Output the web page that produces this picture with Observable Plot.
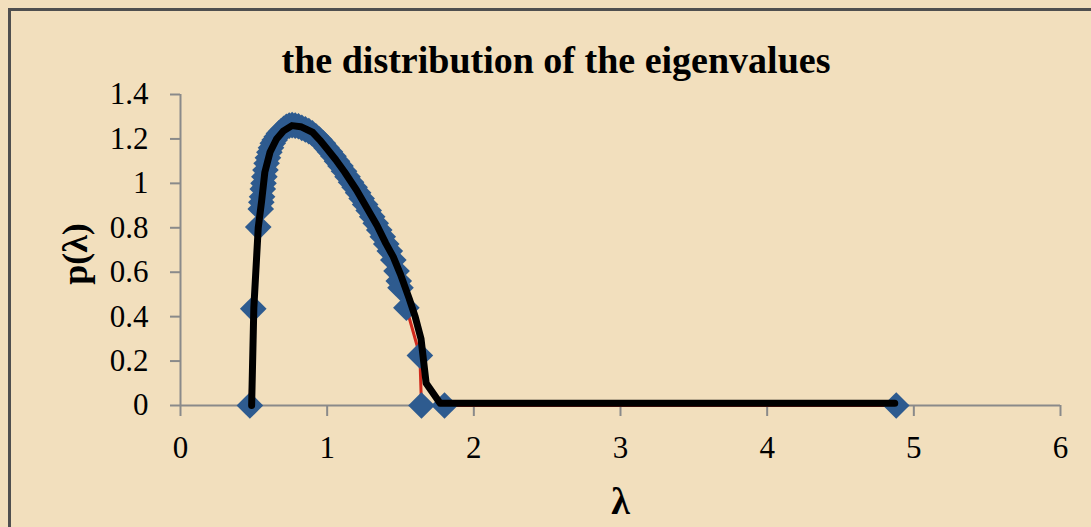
<!DOCTYPE html>
<html><head><meta charset="utf-8">
<script src="https://cdn.jsdelivr.net/npm/d3@7"></script>
<script src="https://cdn.jsdelivr.net/npm/@observablehq/plot@0.6"></script>
<style>
html,body{margin:0;padding:0;background:#f2dfbd;}
#wrap{position:relative;width:1091px;height:527px;overflow:hidden;background:#f2dfbd;}
#frame{position:absolute;left:8px;top:8px;width:1200px;height:600px;border-left:3px solid #4f4f4f;border-top:3px solid #4f4f4f;}
#title{position:absolute;left:9px;width:1094px;top:38px;line-height:normal;text-align:center;font:bold 38px "Liberation Serif",serif;color:#000;}
#chart{position:absolute;left:0;top:0;}
</style></head><body>
<div id="wrap"><div id="frame"></div><div id="chart"></div><div id="title"></div></div>
<script>
const titleText = "the distribution of the eigenvalues";
const xLabel = "λ";
const yLabel = "p(λ)";
const xTicks = [0, 1, 2, 3, 4, 5, 6];
const yTicks = [0, 0.2, 0.4, 0.6, 0.8, 1, 1.2, 1.4];

// empirical histogram points (blue diamonds, joined by the red line)
const lambdaEmp = [0.473, 0.496, 0.530, 0.547, 0.551, 0.556, 0.561, 0.566, 0.572, 0.579,
  0.587, 0.596, 0.606, 0.617, 0.629, 0.642, 0.656, 0.671, 0.687, 0.704,
  0.722, 0.741, 0.761, 0.782, 0.804, 0.827, 0.851, 0.875, 0.899, 0.923,
  0.947, 0.971, 0.995, 1.019, 1.043, 1.067, 1.091, 1.115, 1.139, 1.163,
  1.187, 1.211, 1.235, 1.259, 1.283, 1.307, 1.331, 1.355, 1.379, 1.403,
  1.427, 1.451, 1.473, 1.488, 1.500, 1.540, 1.632, 1.643, 1.800, 4.880];
const pEmp = [0, 0.435, 0.803, 0.885, 0.915, 0.94, 0.975, 1.0, 1.03, 1.06,
  1.09, 1.115, 1.14, 1.16, 1.18, 1.195, 1.21, 1.225, 1.235, 1.245,
  1.255, 1.26, 1.262, 1.26, 1.257, 1.25, 1.243, 1.235, 1.225, 1.212,
  1.197, 1.18, 1.16, 1.142, 1.122, 1.10, 1.078, 1.055, 1.03, 1.005,
  0.982, 0.958, 0.932, 0.905, 0.878, 0.85, 0.82, 0.79, 0.76, 0.727,
  0.695, 0.655, 0.605, 0.56, 0.53, 0.44, 0.225, 0, 0, 0];

// fitted density (black line)
const lambdaFit = [0.485, 0.50, 0.53, 0.553, 0.575, 0.61, 0.655, 0.70, 0.76, 0.82,
  0.90, 0.95, 1.00, 1.06, 1.12, 1.20, 1.27, 1.34, 1.40, 1.45,
  1.50, 1.56, 1.60, 1.64, 1.675, 1.77, 4.87];
const pFit = [0, 0.44, 0.80, 0.92, 1.05, 1.14, 1.20, 1.235, 1.26, 1.255,
  1.23, 1.195, 1.155, 1.105, 1.05, 0.97, 0.89, 0.81, 0.73, 0.67,
  0.59, 0.48, 0.40, 0.30, 0.10, 0.01, 0.01];

const emp = lambdaEmp.map((x, i) => ({x, y: pEmp[i]}));
const fit = lambdaFit.map((x, i) => ({x, y: pFit[i]}));

document.getElementById("title").textContent = titleText;

const axisGray = "#8a8a8a";
const plot = Plot.plot({
  width: 1091, height: 527,
  marginLeft: 180, marginRight: 31, marginTop: 94, marginBottom: 122,
  style: {background: "transparent", fontFamily: "'Liberation Serif', serif", color: "black"},
  x: {domain: [0, 6]},
  y: {domain: [0, 1.4]},
  marks: [
    Plot.ruleX([0], {stroke: axisGray, strokeWidth: 2}),
    Plot.ruleY([0], {stroke: axisGray, strokeWidth: 2}),
    Plot.axisX({ticks: xTicks, tickSize: 11, tickPadding: 19, fontSize: 31, stroke: axisGray, strokeWidth: 2, fill: "black", label: null, tickFormat: d => String(d)}),
    Plot.axisY({ticks: yTicks, tickSize: 10, tickPadding: 22, fontSize: 31, stroke: axisGray, strokeWidth: 2, fill: "black", label: null, tickFormat: d => String(d)}),
    Plot.line(emp, {x: "x", y: "y", stroke: "#d02a1c", strokeWidth: 3}),
    Plot.dot(emp, {x: "x", y: "y", symbol: "diamond2", r: 12, fill: "#2e5b8f", stroke: null}),
    Plot.line(fit, {x: "x", y: "y", stroke: "black", strokeWidth: 7, strokeLinejoin: "round"}),
    Plot.text([xLabel], {frameAnchor: "bottom", textAnchor: "middle", lineAnchor: "middle", dy: 96, fontSize: 38, fontWeight: "bold", fill: "black"}),
    Plot.text([yLabel], {frameAnchor: "left", textAnchor: "middle", lineAnchor: "middle", dx: -105, dy: 4, rotate: -90, fontSize: 36, fontWeight: "bold", fill: "black"})
  ]
});
document.getElementById("chart").appendChild(plot);
</script>
</body></html>
